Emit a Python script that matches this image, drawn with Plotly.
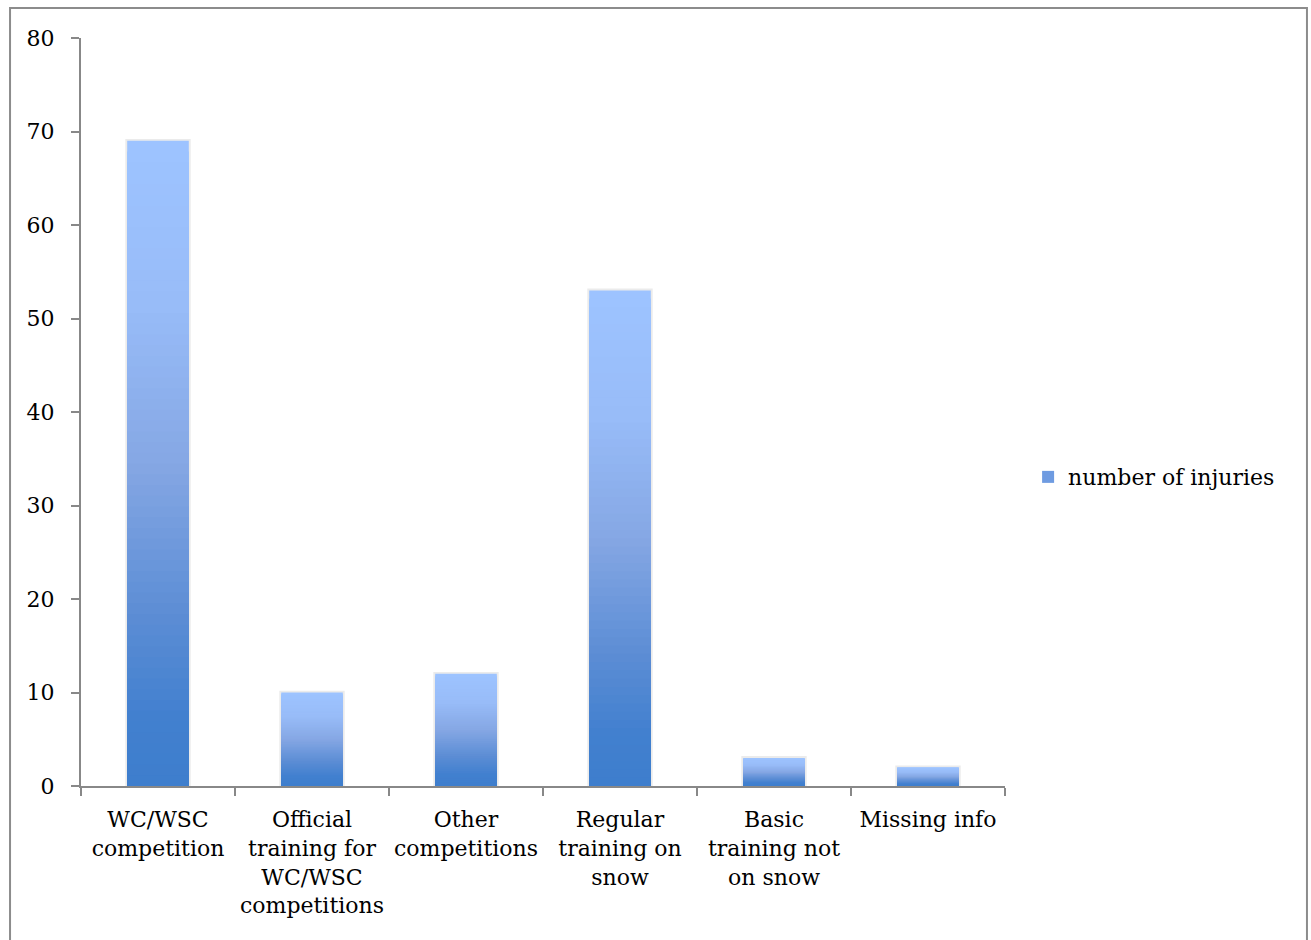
import plotly.graph_objects as go
import numpy as np

categories = ["WC/WSC<br>competition", "Official<br>training for<br>WC/WSC<br>competitions",
              "Other<br>competitions", "Regular<br>training on<br>snow",
              "Basic<br>training not<br>on snow", "Missing info"]
injuries = [69, 10, 12, 53, 3, 2]
series_name = "number of injuries"
y_ticks = [0, 10, 20, 30, 40, 50, 60, 70, 80]

FONT = "DejaVu Serif, Liberation Serif, serif"
# gradient stops (position from top 0 -> bottom 1, rgb)
stops = [(0.0, (157, 195, 255)), (0.25, (152, 188, 248)), (0.5, (133, 167, 228)),
         (0.75, (90, 140, 212)), (0.9, (66, 128, 207)), (1.0, (62, 126, 205))]

def color_at(t):
    for (p0, c0), (p1, c1) in zip(stops[:-1], stops[1:]):
        if p0 <= t <= p1:
            f = (t - p0) / (p1 - p0) if p1 > p0 else 0
            c = [round(a + (b - a) * f) for a, b in zip(c0, c1)]
            return "rgb(%d,%d,%d)" % tuple(c)
    return "rgb(%d,%d,%d)" % stops[-1][1]

fig = go.Figure()
vals = np.array(injuries, dtype=float)
BW = 0.40
# soft shadow
fig.add_trace(go.Bar(x=categories, y=vals + 0.2, width=BW + 0.025, marker=dict(color="rgba(0,0,0,0.08)", line=dict(width=0)),
                     showlegend=False, hoverinfo="skip"))
N = 60
for k in range(N):
    frac = 1 - k / N
    fig.add_trace(go.Bar(x=categories, y=vals * frac, width=BW,
                         marker=dict(color=color_at(k / (N - 1)), line=dict(width=0)),
                         showlegend=False, hoverinfo="skip"))
fig.add_trace(go.Bar(x=[categories[0]], y=[None], name=series_name,
                     marker=dict(color="rgb(110,155,225)", line=dict(width=0)), showlegend=True))

fig.update_layout(
    width=1311, height=940, barmode="overlay",
    margin=dict(l=81, r=306, t=38, b=154),
    paper_bgcolor="white", plot_bgcolor="white",
    font=dict(family=FONT, size=22, color="black"),
    showlegend=True,
    legend=dict(x=1.025, xanchor="left", y=0.413, yanchor="middle", font=dict(size=22, family=FONT),
                itemwidth=30, bgcolor="rgba(0,0,0,0)"),
    xaxis=dict(showgrid=False, showline=True, linecolor="#888888", linewidth=2,
               ticks="outside", ticklen=8, tickcolor="#888888", tickwidth=2, tickson="boundaries",
               tickfont=dict(size=22, family=FONT), range=[-0.5, 5.5], fixedrange=True,
               ticklabelstandoff=13),
    yaxis=dict(range=[0, 80], tickvals=y_ticks, showgrid=False, zeroline=False, showline=True,
               linecolor="#888888", linewidth=2, ticks="outside", ticklen=8, tickcolor="#888888", tickwidth=2,
               tickfont=dict(size=22, family=FONT), ticklabelstandoff=12),
    shapes=[dict(type="rect", xref="paper", yref="paper", x0=-0.0768, x1=1.3268, y0=-0.25, y1=1.0401,
                 line=dict(color="#8c8c8c", width=2), fillcolor="rgba(0,0,0,0)", layer="below")],
)
fig.write_html("out.html")
